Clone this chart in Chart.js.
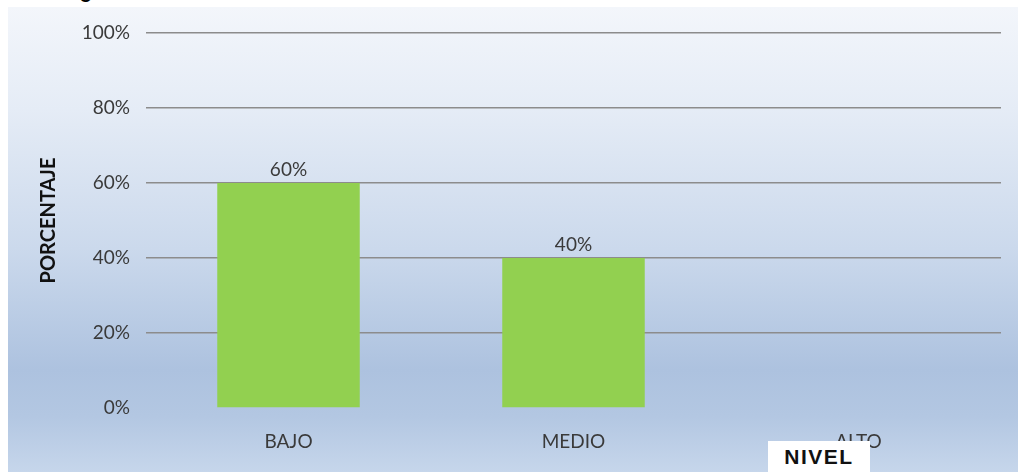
<!DOCTYPE html>
<html>
<head>
<meta charset="utf-8">
<script src="https://cdn.jsdelivr.net/npm/chart.js@4.4.1/dist/chart.umd.min.js"></script>
<style>
  html, body { margin: 0; padding: 0; background: #ffffff; overflow: hidden; }
  #wrap { position: relative; width: 1018px; height: 472px; overflow: hidden; }
  #caption { position: absolute; left: 62px; top: -20px; font: bold 20px "Liberation Sans", Arial, sans-serif; color: #000; white-space: nowrap; }
  #bg { position: absolute; left: 8px; top: 7px; width: 1010px; height: 465px;
        background: linear-gradient(to bottom, #f3f6fb 0%, #e5ecf6 22%, #cbd9ec 52%, #adc2df 78%, #b3c7e2 88%, #c6d6eb 100%); }
  #chart { position: absolute; left: 0; top: 0; }
  #xtitle { position: absolute; left: 768px; top: 441px; width: 102px; height: 31px; background: #ffffff;
            font: bold 21px "Liberation Sans", Arial, sans-serif; letter-spacing: 1.5px; color: #111;
            text-align: center; line-height: 31px; }
</style>
</head>
<body>
<div id="wrap">
  <div id="caption">Figura</div>
  <div id="bg"></div>
  <canvas id="chart" width="1018" height="472"></canvas>
  <div id="xtitle">NIVEL</div>
</div>
<script>
// Nivel alcanzado por categoría (porcentaje)
const categories = ['BAJO', 'MEDIO', 'ALTO'];
const values = [60, 40, 0];
const yTicks = [0, 20, 40, 60, 80, 100];

const textColor = '#3a3a3a';
const tickFont = { family: 'Lato, "Open Sans", sans-serif', size: 19 };

// Percentage labels above each bar
const barLabels = {
  id: 'barLabels',
  afterDatasetsDraw(chart) {
    const { ctx } = chart;
    const meta = chart.getDatasetMeta(0);
    ctx.save();
    ctx.font = '19px Lato, "Open Sans", sans-serif';
    ctx.fillStyle = textColor;
    ctx.textAlign = 'center';
    ctx.textBaseline = 'bottom';
    meta.data.forEach((bar, i) => {
      if (values[i] > 0) ctx.fillText(values[i] + '%', bar.x, bar.y - 4);
    });
    ctx.restore();
  }
};

new Chart(document.getElementById('chart'), {
  type: 'bar',
  data: {
    labels: categories,
    datasets: [{
      data: values,
      backgroundColor: '#92d050',
      borderWidth: 0,
      barPercentage: 0.5,
      categoryPercentage: 1.0
    }]
  },
  options: {
    responsive: false,
    animation: false,
    layout: { padding: { top: 33, right: 17, left: 0, bottom: 0 } },
    plugins: { legend: { display: false }, tooltip: { enabled: false } },
    scales: {
      x: {
        grid: { display: false, drawTicks: false },
        border: { display: false },
        ticks: { color: textColor, font: tickFont, padding: 22 },
        afterFit(scale) { scale.height = 64; }
      },
      y: {
        min: 0,
        max: 100,
        afterBuildTicks(scale) { scale.ticks = yTicks.map(v => ({ value: v })); },
        grid: {
          drawTicks: false,
          lineWidth: 1.6,
          color: (c) => (c.tick && c.tick.value === 0 ? 'rgba(0,0,0,0)' : '#8c8c8c')
        },
        border: { display: false },
        ticks: { color: textColor, font: tickFont, padding: 16, callback: (v) => v + '%' },
        title: {
          display: true,
          text: 'PORCENTAJE',
          color: '#111111',
          font: { family: 'Lato, "Open Sans", sans-serif', size: 20, weight: 'bold' },
          padding: { top: 37, bottom: 0 }
        },
        afterFit(scale) { scale.width = 146; }
      }
    }
  },
  plugins: [barLabels]
});
</script>
</body>
</html>
